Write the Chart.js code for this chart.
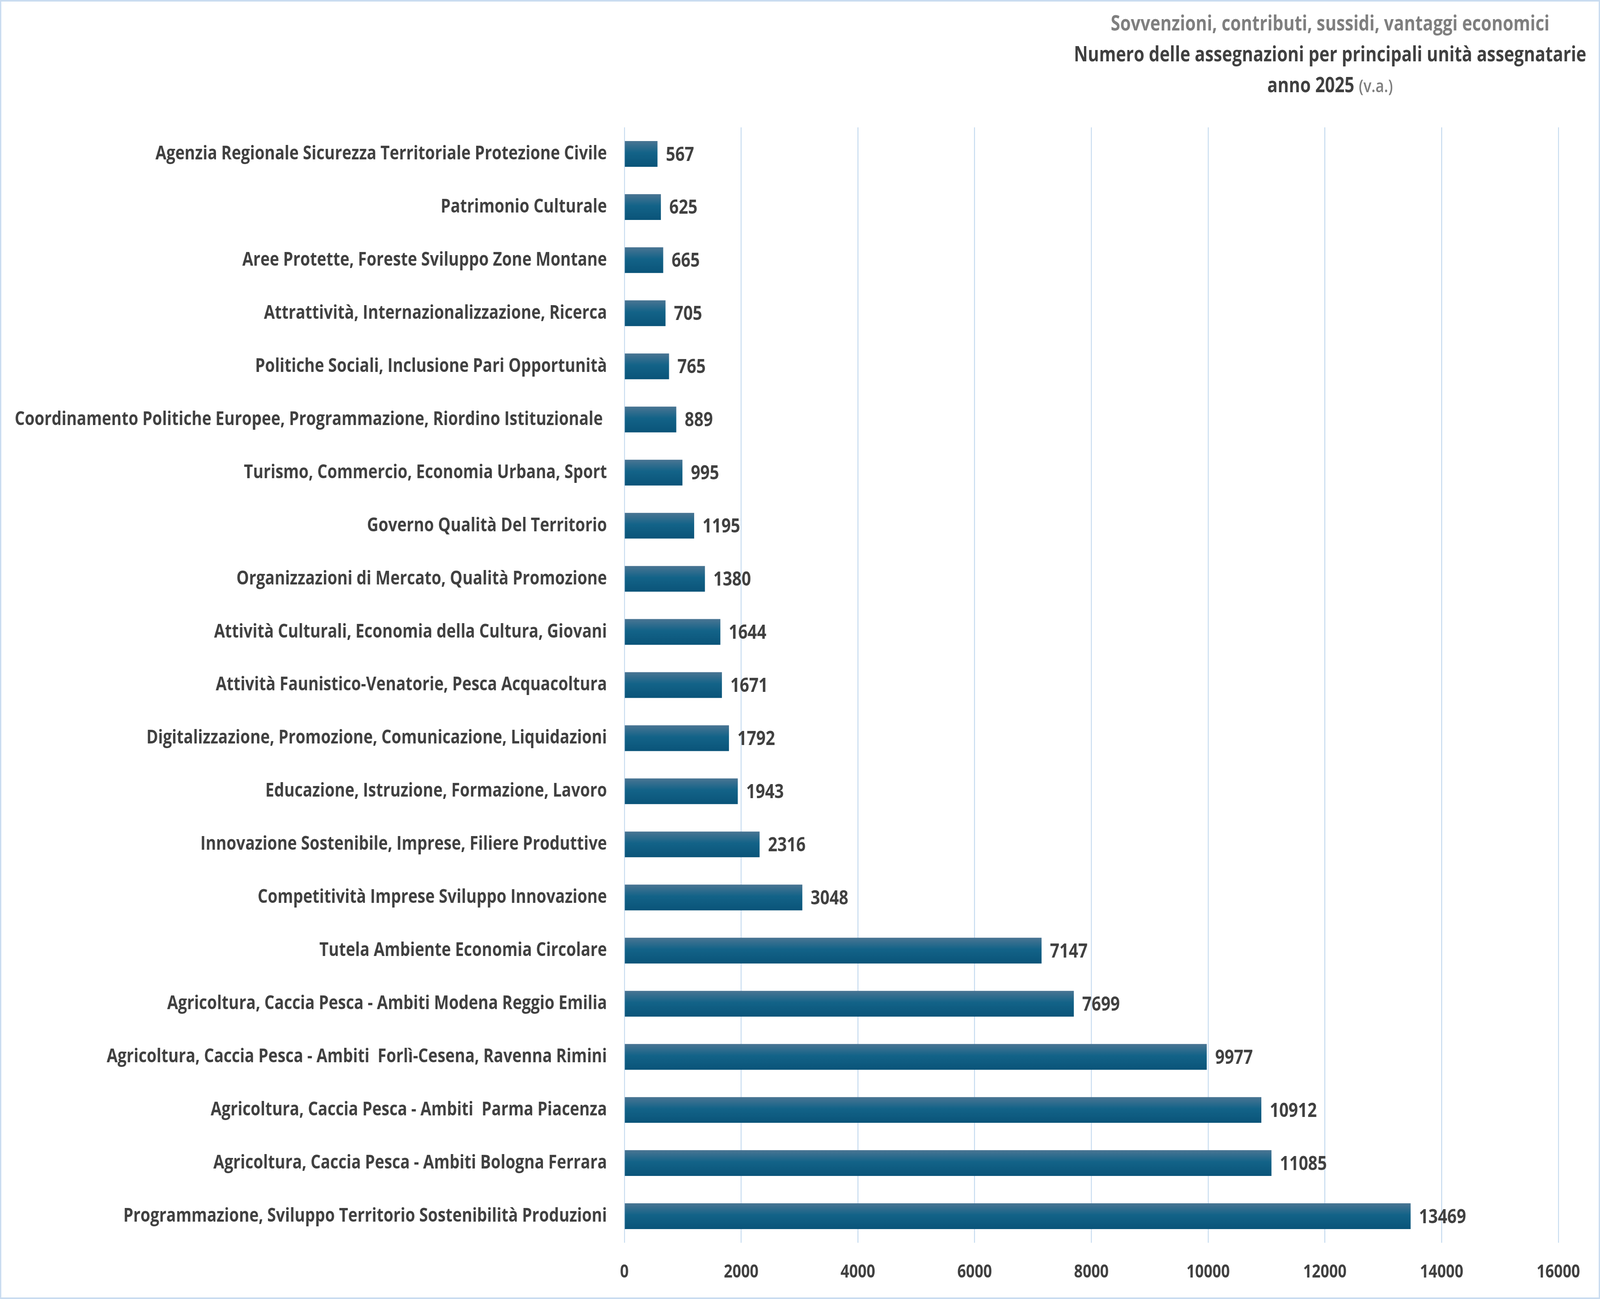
<!DOCTYPE html>
<html lang="it">
<head>
<meta charset="utf-8">
<title>Sovvenzioni, contributi, sussidi, vantaggi economici</title>
<script src="https://cdn.jsdelivr.net/npm/chart.js@4.4.1/dist/chart.umd.min.js"></script>
<style>
    html, body { margin: 0; padding: 0; background: #fff; overflow: hidden; }
    #wrap { position: relative; width: 4956px; height: 3325px; overflow: hidden; transform-origin: 0 0; }
    #wrap::after { content: ""; position: absolute; inset: 0; border: 4px solid #c9dcf0; pointer-events: none; }
    #title {
        position: absolute; left: 4120px; top: 18px; transform: translateX(-50%);
        text-align: center; white-space: nowrap; font-family: "Open Sans", sans-serif; line-height: 79px;
    }
    .t1 { font-size: 53px; font-weight: 700; color: #7f7f7f; }
    .t2 { font-size: 53px; font-weight: 700; color: #404040; }
    .small { font-size: 46px; font-weight: 600; color: #7f7f7f; }
</style>
</head>
<body>
<div id="wrap">
    <canvas id="assegnazioniChart" width="4956" height="3325"></canvas>
    <div id="title">
        <div class="t1">Sovvenzioni, contributi, sussidi, vantaggi economici</div>
        <div class="t2">Numero delle assegnazioni per principali unità assegnatarie</div>
        <div class="t2">anno 2025 <span class="small">(v.a.)</span></div>
    </div>
</div>
<script>
// Data (top to bottom as in the chart)
const categories = [
    "Agenzia Regionale Sicurezza Territoriale Protezione Civile",
    "Patrimonio Culturale",
    "Aree Protette, Foreste Sviluppo Zone Montane",
    "Attrattività, Internazionalizzazione, Ricerca",
    "Politiche Sociali, Inclusione Pari Opportunità",
    "Coordinamento Politiche Europee, Programmazione, Riordino Istituzionale ",
    "Turismo, Commercio, Economia Urbana, Sport",
    "Governo Qualità Del Territorio",
    "Organizzazioni di Mercato, Qualità Promozione",
    "Attività Culturali, Economia della Cultura, Giovani",
    "Attività Faunistico-Venatorie, Pesca Acquacoltura",
    "Digitalizzazione, Promozione, Comunicazione, Liquidazioni",
    "Educazione, Istruzione, Formazione, Lavoro",
    "Innovazione Sostenibile, Imprese, Filiere Produttive",
    "Competitività Imprese Sviluppo Innovazione",
    "Tutela Ambiente Economia Circolare",
    "Agricoltura, Caccia Pesca - Ambiti Modena Reggio Emilia",
    "Agricoltura, Caccia Pesca - Ambiti  Forlì-Cesena, Ravenna Rimini",
    "Agricoltura, Caccia Pesca - Ambiti  Parma Piacenza",
    "Agricoltura, Caccia Pesca - Ambiti Bologna Ferrara",
    "Programmazione, Sviluppo Territorio Sostenibilità Produzioni"
];
const assegnazioni = [567, 625, 665, 705, 765, 889, 995, 1195, 1380, 1644, 1671,
    1792, 1943, 2316, 3048, 7147, 7699, 9977, 10912, 11085, 13469];
const xTicks = [0, 2000, 4000, 6000, 8000, 10000, 12000, 14000, 16000];

const FONT = "'Open Sans', sans-serif";
const TEXT_COLOR = "#404040";
const CAT_PCT = 0.5;
const BAR_PCT = 0.97;

// The drawing is laid out at 4956x3325 and stretched to fill the viewport
const wrap = document.getElementById("wrap");
const sx = window.innerWidth / 4956;
const sy = window.innerHeight / 3325;
wrap.style.transform = "scale(" + sx + "," + sy + ")";

// Vertical gradient for each bar
function barGradient(context) {
    const chart = context.chart;
    const yScale = chart.scales.y;
    if (!chart.chartArea || !yScale || context.dataIndex === undefined) return "#0f5f85";
    const area = chart.chartArea;
    const center = yScale.getPixelForValue(context.dataIndex);
    const half = (area.bottom - area.top) / categories.length * CAT_PCT * BAR_PCT / 2;
    const g = chart.ctx.createLinearGradient(0, center - half, 0, center + half);
    g.addColorStop(0, "#4a7593");
    g.addColorStop(0.45, "#136388");
    g.addColorStop(1, "#0a5479");
    return g;
}

// Value labels at the end of each bar
const valueLabels = {
    id: "valueLabels",
    afterDatasetsDraw(chart) {
        const ctx = chart.ctx;
        const meta = chart.getDatasetMeta(0);
        ctx.save();
        ctx.font = "bold 51px " + FONT;
        ctx.fillStyle = TEXT_COLOR;
        ctx.textAlign = "left";
        ctx.textBaseline = "middle";
        meta.data.forEach((bar, i) => {
            ctx.fillText(String(assegnazioni[i]), bar.x + 26, bar.y + 3);
        });
        ctx.restore();
    }
};

function drawChart() {
    const ctx = document.getElementById("assegnazioniChart").getContext("2d");
    new Chart(ctx, {
        type: "bar",
        data: {
            labels: categories,
            datasets: [{
                data: assegnazioni,
                backgroundColor: barGradient,
                borderWidth: 0,
                categoryPercentage: CAT_PCT,
                barPercentage: BAR_PCT
            }]
        },
        options: {
            indexAxis: "y",
            responsive: false,
            devicePixelRatio: 1,
            animation: false,
            layout: { padding: { top: 326, right: 129, left: 0, bottom: 0 } },
            plugins: {
                legend: { display: false },
                tooltip: { enabled: false },
                title: { display: false }
            },
            scales: {
                x: {
                    min: 0,
                    max: 16000,
                    afterBuildTicks: scale => { scale.ticks = xTicks.map(v => ({ value: v })); },
                    afterFit: scale => { scale.height = 144; },
                    grid: { color: "#c6dbef", lineWidth: 3, drawTicks: false },
                    border: { display: false },
                    ticks: {
                        padding: 47,
                        color: TEXT_COLOR,
                        font: { family: FONT, size: 47, weight: "bold" },
                        callback: value => String(value)
                    }
                },
                y: {
                    afterFit: scale => { scale.width = 1934; },
                    grid: { display: false, drawTicks: false },
                    border: { display: false },
                    ticks: {
                        autoSkip: false,
                        padding: 54,
                        color: TEXT_COLOR,
                        font: { family: FONT, size: 49, weight: "bold" }
                    }
                }
            }
        },
        plugins: [valueLabels]
    });
}

document.addEventListener("DOMContentLoaded", function () {
    if (document.fonts && document.fonts.load) {
        document.fonts.load("bold 49px 'Open Sans'").then(drawChart, drawChart);
    } else {
        drawChart();
    }
});
</script>
</body>
</html>
